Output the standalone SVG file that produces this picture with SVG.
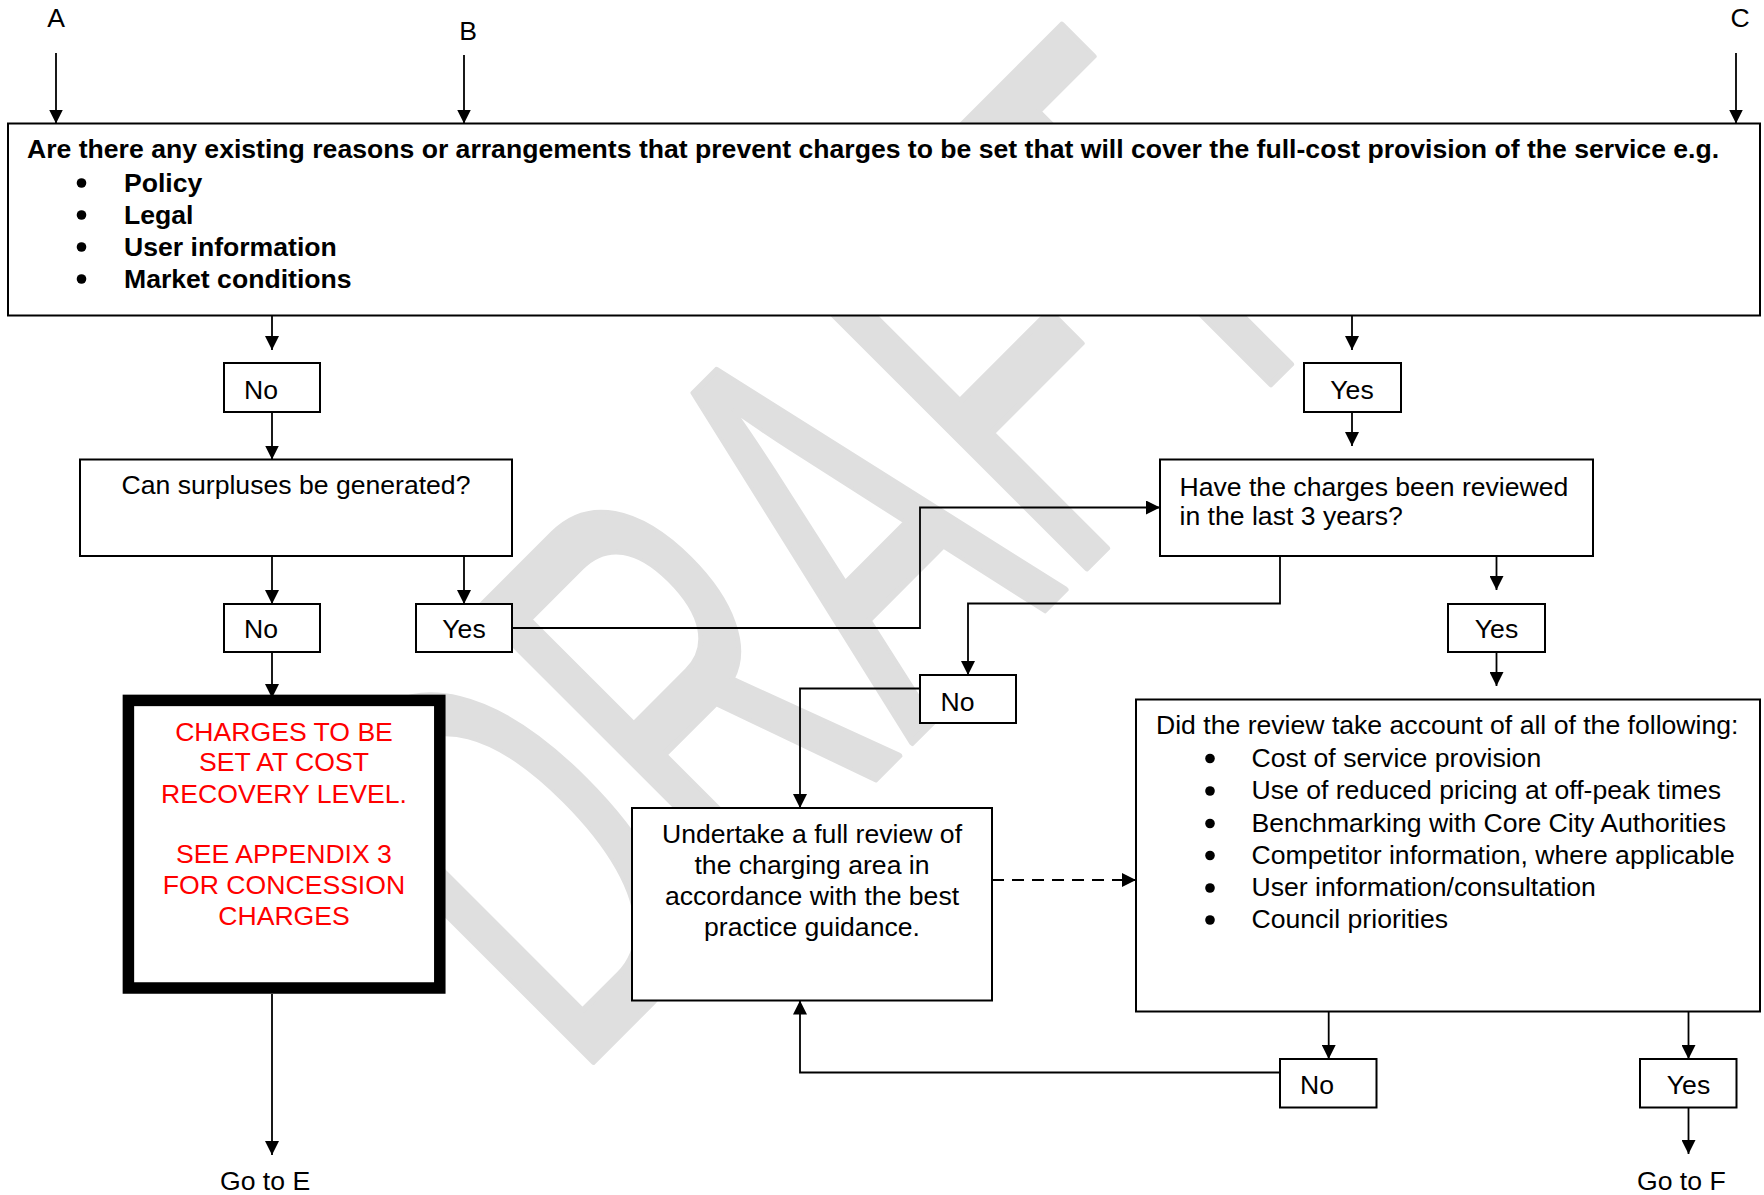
<svg xmlns="http://www.w3.org/2000/svg" width="1764" height="1195" viewBox="0 0 1764 1195">
<defs>
<style>
text{font-family:"Liberation Sans",Arial,sans-serif;font-size:26.6px;fill:#000}
.b{font-weight:bold}
.m{text-anchor:middle}
.red{fill:#ff0000}
.box{fill:#fff;stroke:#000;stroke-width:2}
.thick{fill:#fff;stroke:#000;stroke-width:11.5}
.c{fill:none;stroke:#000;stroke-width:1.8}
.d{fill:none;stroke:#000;stroke-width:1.8;stroke-dasharray:12 8}
.wm{font-family:"Liberation Sans",Arial,sans-serif;font-size:584px;fill:#dfdfdf;stroke:#dfdfdf;stroke-width:6;stroke-linejoin:round}
</style>
<marker id="ah" markerWidth="14" markerHeight="14" refX="14" refY="7" orient="auto" markerUnits="userSpaceOnUse"><path d="M0,0 L14,7 L0,14 z" fill="#000"/></marker>
</defs>
<rect width="1764" height="1195" fill="#fff"/>
<text class="wm" transform="translate(573.3,1081.7) rotate(-45) scale(0.566,1)">DRAFT</text>

<g id="labels">
<text class="m" x="56" y="27">A</text>
<text class="m" x="468" y="40">B</text>
<text class="m" x="1740" y="27">C</text>
</g>

<g id="n-question">
<rect class="box" x="8" y="123.5" width="1752" height="192"/>
<text class="b" x="27" y="158">Are there any existing reasons or arrangements that prevent charges to be set that will cover the full-cost provision of the service e.g.</text>
<circle cx="81.5" cy="183" r="4.8"/><text class="b" x="124" y="191.5">Policy</text>
<circle cx="81.5" cy="215" r="4.8"/><text class="b" x="124" y="223.5">Legal</text>
<circle cx="81.5" cy="247" r="4.8"/><text class="b" x="124" y="255.5">User information</text>
<circle cx="81.5" cy="279" r="4.8"/><text class="b" x="124" y="287.5">Market conditions</text>
</g>

<g id="n-no1"><rect class="box" x="224" y="363" width="96" height="49"/><text x="244" y="399">No</text></g>
<g id="n-yes1"><rect class="box" x="1304" y="363" width="97" height="49"/><text class="m" x="1352" y="399">Yes</text></g>

<g id="n-surplus"><rect class="box" x="80" y="459.5" width="432" height="96.5"/><text class="m" x="296" y="494">Can surpluses be generated?</text></g>

<g id="n-reviewed"><rect class="box" x="1160" y="459.5" width="433" height="96.5"/>
<text x="1179.5" y="495.5">Have the charges been reviewed</text>
<text x="1179.5" y="525">in the last 3 years?</text></g>

<g id="n-no2"><rect class="box" x="224" y="604" width="96" height="48"/><text x="244" y="638">No</text></g>
<g id="n-yes2"><rect class="box" x="416" y="604" width="96" height="48"/><text class="m" x="464" y="638">Yes</text></g>
<g id="n-yes3"><rect class="box" x="1448" y="604" width="97" height="48"/><text class="m" x="1496.5" y="638">Yes</text></g>
<g id="n-no3"><rect class="box" x="920" y="675" width="96" height="48"/><text x="940.5" y="710.5">No</text></g>

<g id="n-cost">
<rect class="thick" x="128.4" y="700.4" width="311.4" height="287.6"/>
<text class="m red" x="284" y="740.5">CHARGES TO BE</text>
<text class="m red" x="284" y="771">SET AT COST</text>
<text class="m red" x="284" y="802.5">RECOVERY LEVEL.</text>
<text class="m red" x="284" y="862.5">SEE APPENDIX 3</text>
<text class="m red" x="284" y="893.5">FOR CONCESSION</text>
<text class="m red" x="284" y="925">CHARGES</text>
</g>

<g id="n-undertake">
<rect class="box" x="632" y="808" width="360" height="192.5"/>
<text class="m" x="812" y="843">Undertake a full review of</text>
<text class="m" x="812" y="874">the charging area in</text>
<text class="m" x="812" y="905">accordance with the best</text>
<text class="m" x="812" y="935.5">practice guidance.</text>
</g>

<g id="n-account">
<rect class="box" x="1136" y="699.5" width="624" height="312"/>
<text x="1156" y="734">Did the review take account of all of the following:</text>
<circle cx="1210" cy="758.5" r="4.8"/><text x="1251.5" y="766.5">Cost of service provision</text>
<circle cx="1210" cy="791" r="4.8"/><text x="1251.5" y="799">Use of reduced pricing at off-peak times</text>
<circle cx="1210" cy="823.5" r="4.8"/><text x="1251.5" y="831.5">Benchmarking with Core City Authorities</text>
<circle cx="1210" cy="855.5" r="4.8"/><text x="1251.5" y="863.5">Competitor information, where applicable</text>
<circle cx="1210" cy="888" r="4.8"/><text x="1251.5" y="896">User information/consultation</text>
<circle cx="1210" cy="920" r="4.8"/><text x="1251.5" y="928">Council priorities</text>
</g>

<g id="n-no4"><rect class="box" x="1280" y="1059" width="96.5" height="48.5"/><text x="1300" y="1094">No</text></g>
<g id="n-yes4"><rect class="box" x="1640" y="1059" width="96.5" height="48.5"/><text class="m" x="1688.5" y="1094">Yes</text></g>

<g id="n-goe"><text x="220" y="1190">Go to E</text></g>
<g id="n-gof"><text x="1637" y="1190">Go to F</text></g>

<g id="connectors" marker-end="url(#ah)">
<path class="c" d="M56,53 V123.5"/>
<path class="c" d="M464,55 V123.5"/>
<path class="c" d="M1736,53 V123.5"/>
<path class="c" d="M272,315.5 V350"/>
<path class="c" d="M1352,315.5 V350"/>
<path class="c" d="M272,412 V459.5"/>
<path class="c" d="M1352,412 V446"/>
<path class="c" d="M272,556 V604"/>
<path class="c" d="M464,556 V604"/>
<path class="c" d="M512,628 H920 V507.5 H1160"/>
<path class="c" d="M1496.5,556 V590"/>
<path class="c" d="M1496.5,652 V686"/>
<path class="c" d="M1280,556 V603.5 H968 V675"/>
<path class="c" d="M920,688.5 H800 V808"/>
<path class="c" d="M272,652 V698"/>
<path class="c" d="M272,994 V1155"/>
<path class="d" d="M992,880 H1136"/>
<path class="c" d="M1328.7,1011.5 V1059"/>
<path class="c" d="M1688.5,1011.5 V1059"/>
<path class="c" d="M1280,1072.5 H800 V1000.5"/>
<path class="c" d="M1688.5,1107.5 V1154"/>
</g>
</svg>
